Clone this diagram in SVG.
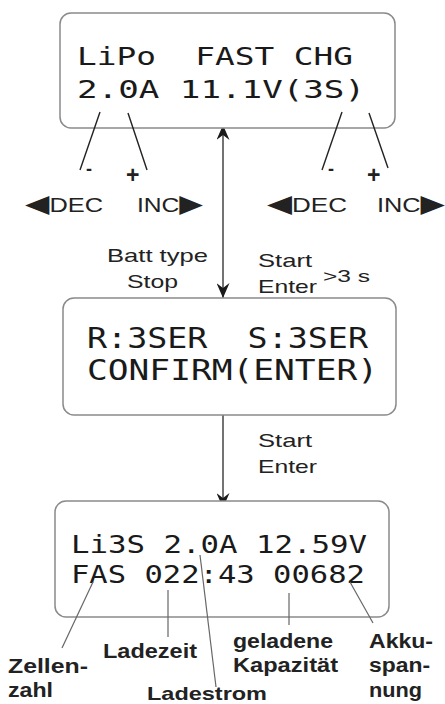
<svg xmlns="http://www.w3.org/2000/svg" width="445" height="704" viewBox="0 0 445 704">
<style>
.box{fill:#fff;stroke:#8a8a8a;stroke-width:1.5}
.lcd{font-family:"DejaVu Sans Mono","Liberation Mono",monospace;fill:#1a1a1a}
.lbl{font-family:"Liberation Sans","DejaVu Sans",sans-serif;fill:#222}
.b{font-weight:bold}
.tri{font-family:"DejaVu Sans",sans-serif;font-size:25px}
.tick{stroke:#222;stroke-width:1.4;fill:none}
.lead{stroke:#666;stroke-width:1.2;fill:none}
.conn{stroke:#444;stroke-width:1.5;fill:none;marker-start:url(#ah);marker-end:url(#ah)}
</style>
<defs>
<marker id="ah" viewBox="0 0 15 13" refX="15" refY="6.5" markerWidth="15" markerHeight="13" markerUnits="userSpaceOnUse" orient="auto-start-reverse">
<path d="M0,0 L15,6.5 L0,13 L5,6.5 z" fill="#1a1a1a"/>
</marker>
</defs>
<rect width="445" height="704" fill="#fff"/>

<g id="connectors">
<line class="conn" x1="223" y1="125" x2="223" y2="298"/>
<line class="conn" x1="223" y1="400" x2="223" y2="508"/>
</g>

<g id="screen1">
<rect class="box" x="60" y="13" width="335" height="115" rx="11"/>
<text class="lcd" xml:space="preserve" x="77" y="65" font-size="25" textLength="276" lengthAdjust="spacingAndGlyphs">LiPo  FAST CHG</text>
<text class="lcd" x="77" y="98" font-size="25" textLength="288" lengthAdjust="spacingAndGlyphs">2.0A 11.1V(3S)</text>
</g>

<g id="adjust-current">
<line class="tick" x1="100" y1="112" x2="80" y2="170"/>
<line class="tick" x1="128" y1="113" x2="147" y2="170"/>
<text class="lbl b" x="86" y="175" font-size="18">-</text>
<text class="lbl b" x="126" y="183" font-size="23">+</text>
<text class="lbl" x="25" y="212" font-size="20" textLength="78" lengthAdjust="spacingAndGlyphs"><tspan class="tri">◀</tspan>DEC</text>
<text class="lbl" x="137" y="212" font-size="20" textLength="66" lengthAdjust="spacingAndGlyphs">INC<tspan class="tri">▶</tspan></text>
</g>

<g id="adjust-voltage">
<line class="tick" x1="342" y1="112" x2="322" y2="170"/>
<line class="tick" x1="369" y1="113" x2="388" y2="168"/>
<text class="lbl b" x="328" y="175" font-size="18">-</text>
<text class="lbl b" x="367" y="183" font-size="23">+</text>
<text class="lbl" x="267" y="212" font-size="20" textLength="80" lengthAdjust="spacingAndGlyphs"><tspan class="tri">◀</tspan>DEC</text>
<text class="lbl" x="377" y="212" font-size="20" textLength="68" lengthAdjust="spacingAndGlyphs">INC<tspan class="tri">▶</tspan></text>
</g>

<g id="label-stop">
<text class="lbl" x="107" y="262" font-size="19" textLength="101" lengthAdjust="spacingAndGlyphs">Batt type</text>
<text class="lbl" x="127" y="288" font-size="19" textLength="51" lengthAdjust="spacingAndGlyphs">Stop</text>
</g>

<g id="label-start1">
<text class="lbl" x="258" y="267" font-size="19" textLength="54" lengthAdjust="spacingAndGlyphs">Start</text>
<text class="lbl" x="258" y="293" font-size="19" textLength="59" lengthAdjust="spacingAndGlyphs">Enter</text>
<text class="lbl" x="323" y="282" font-size="16" textLength="47" lengthAdjust="spacingAndGlyphs">&gt;3 s</text>
</g>

<g id="screen2">
<rect class="box" x="63" y="298" width="333" height="117" rx="11"/>
<text class="lcd" xml:space="preserve" x="87" y="348" font-size="28" textLength="281" lengthAdjust="spacingAndGlyphs">R:3SER  S:3SER</text>
<text class="lcd" x="87" y="380" font-size="28" textLength="291" lengthAdjust="spacingAndGlyphs">CONFIRM(ENTER)</text>
</g>

<g id="label-start2">
<text class="lbl" x="258" y="447" font-size="19" textLength="54" lengthAdjust="spacingAndGlyphs">Start</text>
<text class="lbl" x="258" y="473" font-size="19" textLength="59" lengthAdjust="spacingAndGlyphs">Enter</text>
</g>

<g id="screen3">
<rect class="box" x="55" y="501" width="334" height="116" rx="11"/>
<text class="lcd" x="71" y="553" font-size="25" textLength="296" lengthAdjust="spacingAndGlyphs">Li3S 2.0A 12.59V</text>
<text class="lcd" x="71" y="583" font-size="25" textLength="294" lengthAdjust="spacingAndGlyphs">FAS 022:43 00682</text>
</g>

<g id="legend">
<line class="lead" x1="93" y1="582" x2="62" y2="648"/>
<line class="lead" x1="168" y1="590" x2="168" y2="637"/>
<line class="lead" x1="200" y1="555" x2="216" y2="687"/>
<line class="lead" x1="289" y1="593" x2="289" y2="625"/>
<line class="lead" x1="350" y1="582" x2="373" y2="623"/>
<text class="lbl b" x="8" y="673" font-size="20" textLength="80" lengthAdjust="spacingAndGlyphs">Zellen-</text>
<text class="lbl b" x="8" y="697" font-size="20" textLength="45" lengthAdjust="spacingAndGlyphs">zahl</text>
<text class="lbl b" x="103" y="658" font-size="20" textLength="94" lengthAdjust="spacingAndGlyphs">Ladezeit</text>
<text class="lbl b" x="147" y="700" font-size="19" textLength="120" lengthAdjust="spacingAndGlyphs">Ladestrom</text>
<text class="lbl b" x="233" y="648" font-size="20" textLength="100" lengthAdjust="spacingAndGlyphs">geladene</text>
<text class="lbl b" x="233" y="672" font-size="20" textLength="105" lengthAdjust="spacingAndGlyphs">Kapazität</text>
<text class="lbl b" x="369" y="648" font-size="20" textLength="64" lengthAdjust="spacingAndGlyphs">Akku-</text>
<text class="lbl b" x="369" y="672" font-size="20" textLength="61" lengthAdjust="spacingAndGlyphs">span-</text>
<text class="lbl b" x="369" y="697" font-size="20" textLength="53" lengthAdjust="spacingAndGlyphs">nung</text>
</g>
</svg>
